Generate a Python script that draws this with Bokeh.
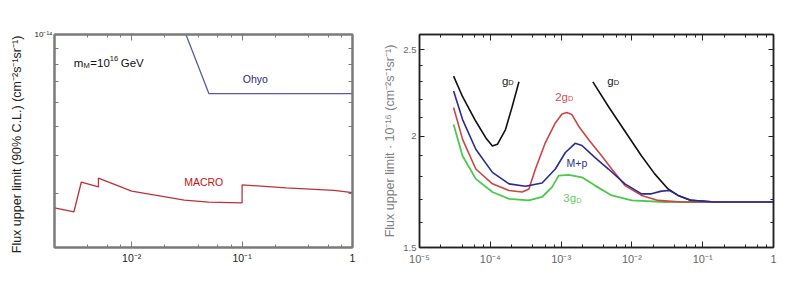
import numpy as np
from bokeh.plotting import figure
from bokeh.layouts import row
from bokeh.models import (LogAxis, FixedTicker, LogTicker, CustomJSTickFormatter,
                          Label, Range1d)
from bokeh.embed import file_html
from bokeh.resources import INLINE

# ---------------- Left panel data (MACRO vs Ohyo) ----------------
macro_beta = [0.002, 0.003, 0.0035, 0.005, 0.005, 0.01, 0.03, 0.05, 0.1, 0.1, 0.25, 0.68, 1.0]
macro_flux = [2.70e-15, 2.62e-15, 3.28e-15, 3.16e-15, 3.38e-15, 3.06e-15, 2.86e-15,
              2.82e-15, 2.80e-15, 3.21e-15, 3.14e-15, 3.08e-15, 3.03e-15]
ohyo_beta = [0.031, 0.05, 1.0]
ohyo_flux = [1.0e-14, 6.4e-15, 6.4e-15]

# ---------------- Right panel data ----------------
gd_low_beta = [3.03e-5, 4.06e-5, 6.24e-5, 8.61e-5, 1.07e-4, 1.26e-4, 1.64e-4, 2.04e-4, 2.54e-4]
gd_low_flux = [2.335, 2.214, 2.078, 1.992, 1.949, 1.958, 2.034, 2.159, 2.301]

gd_high_beta = [2.81e-3, 4.66e-3, 7.98e-3, 0.0137, 0.021, 0.0324, 0.0449, 0.0689, 0.1466, 1.0]
gd_high_flux = [2.301, 2.159, 2.025, 1.900, 1.814, 1.745, 1.716, 1.694, 1.687, 1.687]

g2_beta = [3.03e-5, 4.06e-5, 6.24e-5, 1.07e-4, 1.84e-4, 2.82e-4, 3.51e-4, 4.34e-4, 6.0e-4,
           8.29e-4, 1.03e-3, 1.21e-3, 1.42e-3, 1.77e-3, 2.44e-3, 3.75e-3, 5.19e-3, 7.98e-3,
           0.0137, 0.0235, 0.0499, 1.0]
g2_flux = [2.153, 1.983, 1.837, 1.768, 1.738, 1.731, 1.745, 1.837, 1.967,
           2.069, 2.117, 2.126, 2.114, 2.052, 1.983, 1.900, 1.837, 1.760,
           1.716, 1.694, 1.687, 1.687]

mp_beta = [3.03e-5, 4.06e-5, 6.24e-5, 1.07e-4, 1.84e-4, 3.14e-4, 5.39e-4, 8.29e-4, 1.15e-3,
           1.58e-3, 1.97e-3, 3.02e-3, 4.66e-3, 7.98e-3, 0.0137, 0.0189, 0.0261, 0.0342,
           0.0449, 0.0689, 0.1466, 1.0]
mp_flux = [2.247, 2.087, 1.933, 1.821, 1.768, 1.757, 1.772, 1.837, 1.917,
           1.963, 1.952, 1.892, 1.837, 1.768, 1.723, 1.723, 1.735, 1.738,
           1.716, 1.694, 1.687, 1.687]

g3_beta = [3.03e-5, 4.06e-5, 6.24e-5, 1.07e-4, 1.84e-4, 3.51e-4, 5.39e-4, 7.45e-4, 9.25e-4,
           1.28e-3, 1.97e-3, 3.02e-3, 5.19e-3, 9.9e-3, 0.029, 1.0]
g3_flux = [2.061, 1.900, 1.791, 1.731, 1.701, 1.694, 1.709, 1.753, 1.806,
           1.809, 1.798, 1.760, 1.716, 1.694, 1.687, 1.687]

left_y_ticks = [3e-15, 4e-15, 5e-15, 6e-15, 7e-15, 8e-15, 9e-15, 1e-14]
right_y_major = [1.5, 2.0, 2.5]
right_y_minor = [1.6, 1.7, 1.8, 1.9, 2.1, 2.2, 2.3, 2.4, 2.6]

FONT = "Liberation Sans"

LOG_FMT = CustomJSTickFormatter(code="""
const e = Math.round(Math.log10(tick));
if (e === 0) return "1";
const s = {"-":"\u207b","0":"\u2070","1":"\u00b9","2":"\u00b2","3":"\u00b3","4":"\u2074",
           "5":"\u2075","6":"\u2076","7":"\u2077","8":"\u2078","9":"\u2079"};
return "10" + String(e).split("").map(c => s[c]).join("");
""")
BLANK_FMT = CustomJSTickFormatter(code="""return " ";""")


def style_axis(ax, color, lw, lab_color, fs="9px", maj=6, mnr=3):
    ax.axis_line_color = color
    ax.axis_line_width = lw
    ax.major_tick_line_color = color
    ax.minor_tick_line_color = color
    ax.major_tick_line_width = 1
    ax.minor_tick_line_width = 1
    ax.major_tick_in = maj
    ax.major_tick_out = 0
    ax.minor_tick_in = mnr
    ax.minor_tick_out = 0
    ax.major_label_text_font = FONT
    ax.major_label_text_font_size = fs
    ax.major_label_text_color = lab_color
    ax.major_label_standoff = 4


# ================= LEFT FIGURE =================
L_FRAME = "#7a7a7a"
left = figure(width=380, height=288, x_axis_type="log", y_axis_type="log",
              x_range=Range1d(0.002, 1.0), y_range=Range1d(2e-15, 1e-14),
              output_backend="svg", toolbar_location=None,
              min_border_left=54, min_border_right=28, min_border_top=32, min_border_bottom=41)
left.xgrid.visible = False
left.ygrid.visible = False
left.outline_line_color = L_FRAME
left.outline_line_width = 2
left.background_fill_color = "white"
left.border_fill_color = "white"

left.xaxis.ticker = LogTicker()
left.xaxis.formatter = LOG_FMT
style_axis(left.xaxis[0], L_FRAME, 2, "#222222", fs="10.5px")
left.xaxis.major_label_standoff = 4

ly_fmt = CustomJSTickFormatter(code="""return tick > 9.5e-15 ? "10\u207b\u00b9\u2074" : " ";""")
left.yaxis.ticker = FixedTicker(ticks=left_y_ticks, minor_ticks=[])
left.yaxis.formatter = ly_fmt
style_axis(left.yaxis[0], L_FRAME, 2, "#222222", fs="8px", maj=4)
left.yaxis.major_label_standoff = 2
left.yaxis.axis_label = "Flux upper  limit (90% C.L.)  (cm\u207b\u00b2s\u207b\u00b9sr\u207b\u00b9)"
left.yaxis.axis_label_text_font = FONT
left.yaxis.axis_label_text_font_size = "12.5px"
left.yaxis.axis_label_text_font_style = "normal"
left.yaxis.axis_label_text_color = "#222222"
left.yaxis.axis_label_standoff = 8

top_l = LogAxis(ticker=LogTicker(), formatter=BLANK_FMT)
style_axis(top_l, L_FRAME, 2, "#222222", fs="6px")
top_l.major_label_standoff = 0
left.add_layout(top_l, "above")
right_l = LogAxis(ticker=FixedTicker(ticks=left_y_ticks, minor_ticks=[]), formatter=BLANK_FMT)
style_axis(right_l, L_FRAME, 2, "#222222", fs="6px", maj=4)
right_l.major_label_standoff = 0
left.add_layout(right_l, "right")

left.line(macro_beta, macro_flux, line_color="#c0303a", line_width=1.3)
left.line(ohyo_beta, ohyo_flux, line_color="#5a5aa6", line_width=1.3)

left.add_layout(Label(x=0.0449, y=3.27e-15, text="MACRO", text_font=FONT, text_font_size="10.5px",
                      text_color="#cc1111", text_align="center", text_baseline="middle"))
left.add_layout(Label(x=0.132, y=7.16e-15, text="Ohyo", text_font=FONT, text_font_size="10.5px",
                      text_color="#2a2a80", text_align="center", text_baseline="middle"))
mx, my = 0.00299, 8.08e-15
for txt, dx, dy, fs in [("m", 0, 0, "11.5px"), ("M", 9.8, -3, "7.5px"), ("=10", 16.5, 0, "11.5px"),
                        ("16", 36, 4, "7.5px"), ("GeV", 47, 0, "11.5px")]:
    left.add_layout(Label(x=mx, y=my, x_offset=dx, y_offset=dy, text=txt, text_font=FONT,
                          text_font_size=fs, text_color="#111111", text_align="left",
                          text_baseline="middle"))
left.add_layout(Label(x=1.0, y=2e-15, x_offset=-4, y_offset=-14, text="\u03b2", text_font=FONT,
                      text_font_size="11px", text_color="#222222", text_align="right",
                      text_baseline="middle"))

# ================= RIGHT FIGURE =================
R_FRAME = "#222222"
R_LAB = "#666666"
right = figure(width=408, height=288, x_axis_type="log", y_axis_type="log",
               x_range=Range1d(1e-5, 1.0), y_range=Range1d(1.5, 2.6),
               output_backend="svg", toolbar_location=None,
               min_border_left=37, min_border_right=15, min_border_top=34, min_border_bottom=39)
right.xgrid.visible = False
right.ygrid.visible = False
right.outline_line_color = R_FRAME
right.outline_line_width = 1.5
right.background_fill_color = "white"
right.border_fill_color = "white"

right.xaxis.ticker = LogTicker()
right.xaxis.formatter = LOG_FMT
style_axis(right.xaxis[0], R_FRAME, 1.5, R_LAB, fs="11px", maj=6, mnr=3)
right.xaxis.major_label_standoff = 5

ry_fmt = CustomJSTickFormatter(code="""return (Math.round(tick*10)/10).toString();""")
right.yaxis.ticker = FixedTicker(ticks=right_y_major, minor_ticks=right_y_minor)
right.yaxis.formatter = ry_fmt
style_axis(right.yaxis[0], R_FRAME, 1.5, R_LAB, fs="9.5px", maj=5, mnr=3)
right.yaxis.major_label_standoff = 3
right.yaxis.axis_label = "Flux upper limit \u00b7 10\u207b\u00b9\u2076 (cm\u207b\u00b2s\u207b\u00b9sr\u207b\u00b9)"
right.yaxis.axis_label_text_font = FONT
right.yaxis.axis_label_text_font_size = "12.5px"
right.yaxis.axis_label_text_font_style = "normal"
right.yaxis.axis_label_text_color = "#808080"
right.yaxis.axis_label_standoff = 3

top_r = LogAxis(ticker=LogTicker(), formatter=BLANK_FMT)
style_axis(top_r, R_FRAME, 1.5, R_LAB, fs="6px", maj=6, mnr=3)
top_r.major_label_standoff = 0
right.add_layout(top_r, "above")
right_r = LogAxis(ticker=FixedTicker(ticks=right_y_major, minor_ticks=right_y_minor),
                  formatter=BLANK_FMT)
style_axis(right_r, R_FRAME, 1.5, R_LAB, fs="6px", maj=5, mnr=3)
right_r.major_label_standoff = 0
right.add_layout(right_r, "right")

right.line(gd_low_beta, gd_low_flux, line_color="#111111", line_width=1.6)
right.line(gd_high_beta, gd_high_flux, line_color="#111111", line_width=1.6)
right.line(g3_beta, g3_flux, line_color="#4cc84c", line_width=1.8)
right.line(g2_beta, g2_flux, line_color="#cc4444", line_width=1.6)
right.line(mp_beta, mp_flux, line_color="#2a2a92", line_width=1.6)


def g_label(fig, x, y, prefix, color):
    fig.add_layout(Label(x=x, y=y, x_offset=1, text=prefix + "g", text_font=FONT,
                         text_font_size="11.5px", text_color=color, text_align="right",
                         text_baseline="middle"))
    fig.add_layout(Label(x=x, y=y, x_offset=1, y_offset=-2, text="D", text_font=FONT,
                         text_font_size="7.5px", text_color=color, text_align="left",
                         text_baseline="middle"))


g_label(right, 1.74e-4, 2.306, "", "#222222")
g_label(right, 5.36e-3, 2.308, "", "#222222")
g_label(right, 1.21e-3, 2.214, "2", "#d05050")
g_label(right, 1.58e-3, 1.703, "3", "#66cc66")
right.add_layout(Label(x=1.67e-3, y=1.866, text="M+p", text_font=FONT, text_font_size="10.5px",
                       text_color="#303090", text_align="center", text_baseline="middle"))
right.add_layout(Label(x=1.0, y=1.5, x_offset=-1, y_offset=-26, text="\u03b2=v/c", text_font=FONT,
                       text_font_size="9.5px", text_color=R_LAB, text_align="right",
                       text_baseline="middle"))

layout = row(left, right)
with open("out.html", "w", encoding="utf-8") as f:
    f.write(file_html(layout, INLINE))
